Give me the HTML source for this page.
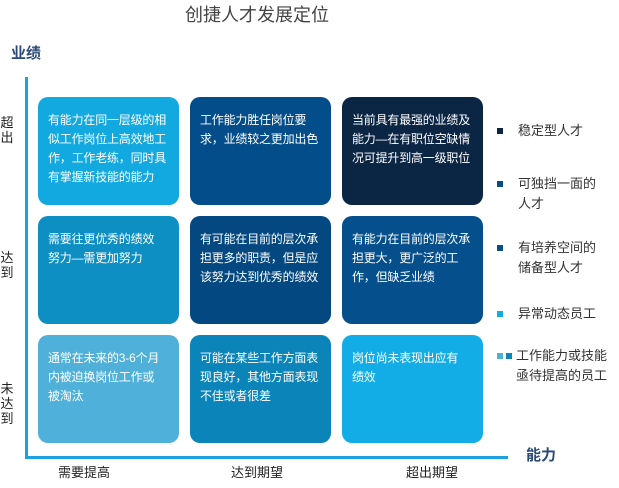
<!DOCTYPE html>
<html><head><meta charset="utf-8"><style>
body{margin:0;width:619px;height:488px;background:#fff;position:relative;overflow:hidden;font-family:"Liberation Sans","Noto Sans CJK SC",sans-serif}
.a{position:absolute}
.b{position:absolute;width:141px;height:108px;border-radius:10px;color:#fff;font-size:12px;line-height:19px;padding:14px 4px 0 10px;box-sizing:border-box;white-space:nowrap;letter-spacing:-0.2px}
.sq{position:absolute;width:6px;height:6px}
.lg{position:absolute;left:518px;font-size:13px;line-height:20px;color:#333}
.v{position:absolute;left:0;width:14px;font-size:13px;line-height:15px;color:#222;text-align:center}
</style></head><body>
<div class="a" style="left:185px;top:1px;font-size:18px;color:#444">创捷人才发展定位</div>
<div class="a" style="left:11px;top:42px;font-size:15px;color:#2b4a7a;font-weight:bold">业绩</div>
<div class="a" style="left:25px;top:77px;width:3px;height:382px;background:#1ba1e2"></div>
<div class="a" style="left:25px;top:456px;width:483px;height:3px;background:#1ba1e2"></div>
<div class="a" style="left:526px;top:444px;font-size:15px;color:#2b4a7a;font-weight:bold">能力</div>
<div class="v" style="top:115px">超<br>出</div>
<div class="v" style="top:250px">达<br>到</div>
<div class="v" style="top:381px">未<br>达<br>到</div>
<div class="a" style="left:58px;top:462px;font-size:13px;color:#222">需要提高</div>
<div class="a" style="left:231px;top:462px;font-size:13px;color:#222">达到期望</div>
<div class="a" style="left:406px;top:462px;font-size:13px;color:#222">超出期望</div>

<div class="b" style="left:38px;top:97px;background:#12a8e0">有能力在同一层级的相<br>似工作岗位上高效地工<br>作，工作老练，同时具<br>有掌握新技能的能力</div>
<div class="b" style="left:190px;top:97px;background:#034d8a">工作能力胜任岗位要<br>求，业绩较之更加出色</div>
<div class="b" style="left:342px;top:97px;background:#0b2545">当前具有最强的业绩及<br>能力—在有职位空缺情<br>况可提升到高一级职位</div>
<div class="b" style="left:38px;top:216px;background:#0d8fc4">需要往更优秀的绩效<br>努力—需更加努力</div>
<div class="b" style="left:190px;top:216px;background:#034880">有可能在目前的层次承<br>担更多的职责，但是应<br>该努力达到优秀的绩效</div>
<div class="b" style="left:342px;top:216px;background:#054f8c">有能力在目前的层次承<br>担更大，更广泛的工<br>作，但缺乏业绩</div>
<div class="b" style="left:38px;top:335px;background:#4fb0da">通常在未来的3-6个月<br>内被迫换岗位工作或<br>被淘汰</div>
<div class="b" style="left:190px;top:335px;background:#0a84b9">可能在某些工作方面表<br>现良好，其他方面表现<br>不佳或者很差</div>
<div class="b" style="left:342px;top:335px;background:#12ade6">岗位尚未表现出应有<br>绩效</div>

<div class="sq" style="left:497px;top:128px;background:#0b2545"></div>
<div class="lg" style="top:121px">稳定型人才</div>
<div class="sq" style="left:497px;top:181px;background:#034d8a"></div>
<div class="lg" style="top:174px">可独挡一面的<br>人才</div>
<div class="sq" style="left:497px;top:245px;background:#054f8c"></div>
<div class="lg" style="top:238px">有培养空间的<br>储备型人才</div>
<div class="sq" style="left:497px;top:311px;background:#12ade6"></div>
<div class="lg" style="top:304px">异常动态员工</div>
<div class="sq" style="left:497px;top:353px;background:#4fb0da"></div>
<div class="sq" style="left:506px;top:353px;background:#0a84b9"></div>
<div class="lg" style="top:346px;left:516px">工作能力或技能<br>亟待提高的员工</div>
</body></html>
